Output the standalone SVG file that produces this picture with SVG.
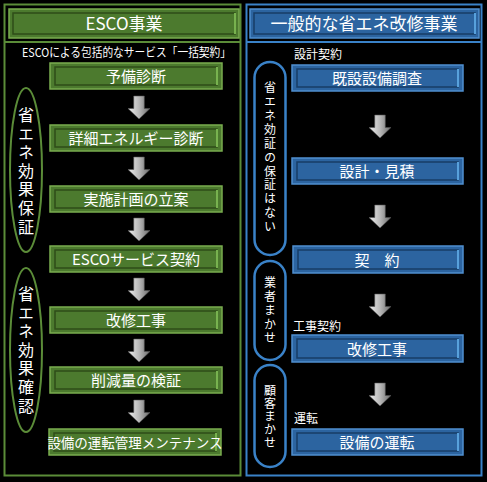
<svg xmlns="http://www.w3.org/2000/svg" width="487" height="482" viewBox="0 0 487 482">
<defs>
<linearGradient id="arrowG" x1="0" y1="0" x2="1" y2="0">
<stop offset="0" stop-color="#f0f0f0"/>
<stop offset="0.5" stop-color="#b8b8b8"/>
<stop offset="1" stop-color="#6a6a6a"/>
</linearGradient>
<symbol id="arrow" viewBox="0 0 24 25" overflow="visible">
<path d="M6,0 H17 V13 H23 L11.5,24 L0,13 H6 Z" fill="url(#arrowG)" stroke="#555" stroke-width="0.6"/>
</symbol>
</defs>
<style>
text{font-family:"Noto Sans CJK JP","Noto Sans",sans-serif;fill:#fff;text-anchor:middle}
.gbox{fill:#4c7a2e;stroke:#79ad4f;stroke-width:1.5}
.gin{fill:none;stroke:#2e4c18;stroke-width:1.5}
.gl{stroke:#8fd060;stroke-width:1.5}
.bbox{fill:#2c64a0;stroke:#4f8fcf;stroke-width:1.5}
.bin{fill:none;stroke:#173d66;stroke-width:1.5}
.bl{stroke:#6cc0ff;stroke-width:1.5}
.bt{font-size:15px}
.ht{font-size:17px}
.vt{font-size:16px;writing-mode:tb;letter-spacing:2.6px}
.vs{font-size:12px;writing-mode:tb;letter-spacing:1.9px}
.lab{font-size:12px;text-anchor:start}
.goval{fill:none;stroke:#5b8c38;stroke-width:2}
.boval{fill:none;stroke:#3a82c8;stroke-width:2.5}
</style>
<rect width="487" height="482" fill="#000"/>

<!-- Left panel -->
<g id="left-panel">
<rect x="4.5" y="4.5" width="236" height="471" fill="none" stroke="#5b8c38" stroke-width="2"/>
<line x1="4" y1="42" x2="241" y2="42" stroke="#5b8c38" stroke-width="2"/>
</g>
<g id="left-header">
<rect class="gbox" x="9" y="9" width="230" height="29"/>
<rect class="gin" x="13" y="13" width="222" height="21"/>
<line class="gl" x1="235" y1="13" x2="235" y2="34"/>
<text class="ht" x="124" y="30">ESCO事業</text>
</g>
<g id="left-subtitle">
<text x="126.5" y="57" style="font-size:12px" textLength="209" lengthAdjust="spacingAndGlyphs">ESCOによる包括的なサービス「一括契約」</text>
</g>

<g id="g1"><rect class="gbox" x="50" y="63" width="172" height="26"/><rect class="gin" x="55" y="67" width="162" height="18"/><line class="gl" x1="217" y1="67" x2="217" y2="85"/><text class="bt" x="136" y="82">予備診断</text></g>
<g id="g2"><rect class="gbox" x="50" y="125" width="172" height="26"/><rect class="gin" x="55" y="129" width="162" height="18"/><line class="gl" x1="217" y1="129" x2="217" y2="147"/><text class="bt" x="136" y="144">詳細エネルギー診断</text></g>
<g id="g3"><rect class="gbox" x="50" y="186" width="172" height="26"/><rect class="gin" x="55" y="190" width="162" height="18"/><line class="gl" x1="217" y1="190" x2="217" y2="208"/><text class="bt" x="136" y="205">実施計画の立案</text></g>
<g id="g4"><rect class="gbox" x="50" y="246" width="172" height="26"/><rect class="gin" x="55" y="250" width="162" height="18"/><line class="gl" x1="217" y1="250" x2="217" y2="268"/><text class="bt" x="136" y="265">ESCOサービス契約</text></g>
<g id="g5"><rect class="gbox" x="50" y="307" width="172" height="26"/><rect class="gin" x="55" y="311" width="162" height="18"/><line class="gl" x1="217" y1="311" x2="217" y2="329"/><text class="bt" x="136" y="326">改修工事</text></g>
<g id="g6"><rect class="gbox" x="50" y="367" width="172" height="26"/><rect class="gin" x="55" y="371" width="162" height="18"/><line class="gl" x1="217" y1="371" x2="217" y2="389"/><text class="bt" x="136" y="386">削減量の検証</text></g>
<g id="g7"><rect class="gbox" x="49" y="429" width="172" height="26"/><rect class="gin" x="54" y="433" width="162" height="18"/><line class="gl" x1="216" y1="433" x2="216" y2="451"/><text class="bt" x="135" y="448" style="font-size:13.5px">設備の運転管理メンテナンス</text></g>

<g id="left-oval-1">
<ellipse class="goval" cx="26" cy="170" rx="16" ry="82"/>
<text class="vt" x="26" y="172">省エネ効果保証</text>
</g>
<g id="left-oval-2">
<ellipse class="goval" cx="26" cy="350" rx="16" ry="82"/>
<text class="vt" x="26" y="351">省エネ効果確認</text>
</g>

<!-- Right panel -->
<g id="right-panel">
<rect x="246.5" y="4.5" width="235" height="471" fill="none" stroke="#3a82c8" stroke-width="2"/>
<line x1="246" y1="42" x2="482" y2="42" stroke="#3a82c8" stroke-width="2"/>
</g>
<g id="right-header">
<rect class="bbox" x="250" y="9" width="229" height="29"/>
<rect class="bin" x="254" y="13" width="221" height="21"/>
<line class="bl" x1="475" y1="13" x2="475" y2="34"/>
<text class="ht" x="364" y="30">一般的な省エネ改修事業</text>
</g>

<g id="lab1"><text class="lab" x="294" y="59">設計契約</text></g>
<g id="b1"><rect class="bbox" x="292" y="65" width="171" height="26"/><rect class="bin" x="297" y="69" width="161" height="18"/><line class="bl" x1="458" y1="69" x2="458" y2="87"/><text class="bt" x="377" y="84">既設設備調査</text></g>
<g id="b2"><rect class="bbox" x="292" y="158" width="171" height="26"/><rect class="bin" x="297" y="162" width="161" height="18"/><line class="bl" x1="458" y1="162" x2="458" y2="180"/><text class="bt" x="377" y="177">設計・見積</text></g>
<g id="b3"><rect class="bbox" x="293" y="246" width="170" height="27"/><rect class="bin" x="298" y="250" width="160" height="19"/><line class="bl" x1="458" y1="250" x2="458" y2="269"/><text class="bt" x="377" y="266">契　約</text></g>
<g id="lab2"><text class="lab" x="293" y="331">工事契約</text></g>
<g id="b4"><rect class="bbox" x="292" y="335" width="171" height="27"/><rect class="bin" x="297" y="339" width="161" height="19"/><line class="bl" x1="458" y1="339" x2="458" y2="358"/><text class="bt" x="377" y="355">改修工事</text></g>
<g id="lab3"><text class="lab" x="294" y="423">運転</text></g>
<g id="b5"><rect class="bbox" x="292" y="429" width="171" height="26"/><rect class="bin" x="297" y="433" width="161" height="18"/><line class="bl" x1="458" y1="433" x2="458" y2="451"/><text class="bt" x="377" y="448">設備の運転</text></g>

<g id="right-oval-1">
<rect class="boval" x="254.5" y="62" width="31" height="193" rx="15.5"/>
<text class="vs" x="270" y="158">省エネ効証の保証はない</text>
</g>
<g id="right-oval-2">
<rect class="boval" x="254.5" y="261" width="31" height="99" rx="15.5"/>
<text class="vs" x="270" y="311">業者まかせ</text>
</g>
<g id="right-oval-3">
<rect class="boval" x="254.5" y="365" width="31" height="102" rx="15.5"/>
<text class="vs" x="270" y="417" style="letter-spacing:1px">顧客まかせ</text>
</g>

<g id="connectors">
<use href="#arrow" x="128" y="96" width="23" height="24"/>
<use href="#arrow" x="128" y="157" width="23" height="24"/>
<use href="#arrow" x="128" y="218" width="23" height="24"/>
<use href="#arrow" x="128" y="278" width="23" height="24"/>
<use href="#arrow" x="128" y="339" width="23" height="24"/>
<use href="#arrow" x="128" y="400" width="23" height="24"/>
<use href="#arrow" x="369" y="115" width="23" height="24"/>
<use href="#arrow" x="369" y="205" width="23" height="24"/>
<use href="#arrow" x="369" y="294" width="23" height="24"/>
<use href="#arrow" x="369" y="383" width="23" height="24"/>
</g>
</svg>
